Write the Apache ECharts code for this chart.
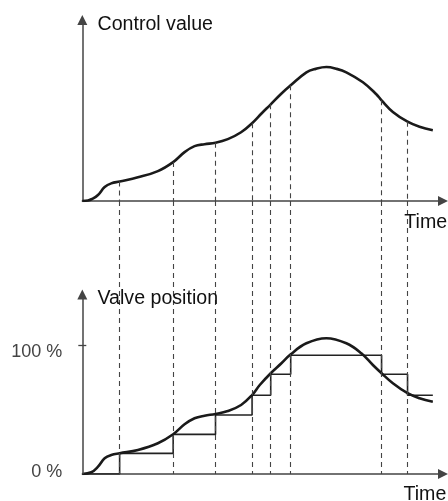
<!DOCTYPE html>
<html>
<head>
<meta charset="utf-8">
<script src="https://cdn.jsdelivr.net/npm/echarts@6/dist/echarts.min.js"></script>
<style>html,body{margin:0;padding:0;background:#fff}#c{width:448px;height:501px}</style>
</head>
<body>
<div id="c"></div>
<script>
// ---- data ----
const topTime = [0,1.58,2.69,4.35,6.2,8.03,10.35,15.42,20.96,25.19,28.35,31.12,33.89,36.93,40.34,44.02,47.07,49.75,52.24,55.01,57.78,62.13,64.7,67.66,70.52,73.2,77.8,81.51,82.97,86.1,90.17,93.49,97.18];
const controlValue = [0,0.28,1.1,3.31,7.71,9.75,10.74,13.06,16.53,21.49,27.0,30.3,31.4,32.2,34.2,38.0,43.0,48.5,53.4,59.0,63.9,71.1,73.0,74.0,73.0,71.1,65.6,59.0,55.6,49.2,43.8,41.0,39.1];

const bottomTime = [0,2.49,4.35,6.2,8.03,10.35,15.42,20.96,25.19,28.35,31.12,33.89,36.93,40.34,44.02,47.07,49.2,52.24,55.2,57.78,62.13,67.66,73.2,77.35,80.56,82.97,86.1,90.17,93.49,97.18];
const valveCurve = [0,1.32,5.66,12.17,14.73,16.05,18.6,23.8,30.8,38.5,43.2,45.2,46.5,48.8,53.5,61.2,69.0,78.1,85.8,92.8,101.3,105.2,101.3,93.6,84.5,78.1,70.3,62.6,58.7,56.0];

const sampleTimes = [10.35,25.19,36.93,47.07,52.24,57.78,82.97,90.17];
const sampleControl = [10.74,21.49,32.2,43.0,53.4,63.9,55.6,43.8];

const stepTime = [0,10.35,25.19,36.93,47.07,52.24,57.78,82.97,90.17,97.18];
const stepValue = [0,16,30.7,45.7,61,77.3,92,77.3,61,61];

const percentTicks = [0,100];
const percentLabels = ['0 %','100 %'];

const titles = ['Control value','Time','Valve position','Time'];

// ---- layout constants ----
const TOP_MAX = 100, BOT_MAX = 211.6, BOT_AXIS_END = 139.1, T_MAX = 100;
const ink = '#1a1a1a', axisInk = '#444', dashInk = '#444';
const font = 'Liberation Sans, Arial, sans-serif';
const ARROW = [10,10];

const zip = (a,b) => a.map((v,i)=>[v,b[i]]);

const topDashes = sampleTimes.map((t,i)=>[{coord:[t,sampleControl[i]]},{coord:[t,0]}]);
const botDashes = sampleTimes.map(t=>[{coord:[t,BOT_MAX]},{coord:[t,0]}]);

const xAxisBase = (gi) => ({
  type:'value', gridIndex:gi, min:0, max:T_MAX,
  axisLine:{show:true, symbol:['none','triangle'], symbolSize:ARROW, lineStyle:{color:axisInk,width:1.5}},
  axisTick:{show:false}, axisLabel:{show:false}, splitLine:{show:false}
});

const chart = echarts.init(document.getElementById('c'), null, {renderer:'canvas'});
chart.setOption({
  animation:false,
  backgroundColor:'#fff',
  title:[
    {text:titles[0], left:97.5, top:15},
    {text:titles[1], left:404.3, top:213},
    {text:titles[2], left:97.5, top:288.5},
    {text:titles[3], left:403.5, top:485}
  ].map(o=>Object.assign(o,{padding:0, textStyle:{fontSize:19.6,fontWeight:'normal',color:'#111',fontFamily:font}})),
  grid:[
    {left:82.3, right:5, top:20, height:181},
    {left:82.3, right:5, top:201, height:273}
  ],
  xAxis:[xAxisBase(0), xAxisBase(1)],
  yAxis:[
    {type:'value', gridIndex:0, position:'left', min:0, max:TOP_MAX,
     axisLine:{show:true, symbol:['none','triangle'], symbolSize:ARROW, lineStyle:{color:axisInk,width:1.5}},
     axisTick:{show:false}, axisLabel:{show:false}, splitLine:{show:false}},
    {type:'value', gridIndex:1, position:'left', offset:-4, min:0, max:BOT_MAX,
     axisLine:{show:false},
     axisTick:{show:true, customValues:[100], length:8, lineStyle:{color:axisInk,width:1.3}},
     axisLabel:{show:true, customValues:percentTicks, margin:24, color:'#444', fontSize:18, fontFamily:font,
       formatter:(v)=>{const i=percentTicks.indexOf(v); return i===1?'{a|'+percentLabels[i]+'}':'{b|'+percentLabels[i]+'}';},
       rich:{a:{padding:[14,0,0,0],fontSize:18,color:'#444',fontFamily:font},b:{padding:[0,0,4,0],fontSize:18,color:'#444',fontFamily:font}}},
     splitLine:{show:false}}
  ],
  series:[
    {type:'line', xAxisIndex:0, yAxisIndex:0, data:zip(topTime,controlValue), smooth:0.4, showSymbol:false, z:3,
     lineStyle:{color:ink,width:2.6}, silent:true,
     markLine:{silent:true, symbol:'none', label:{show:false}, lineStyle:{type:[5,4],color:dashInk,width:1.1}, data:topDashes}},
    {type:'line', xAxisIndex:1, yAxisIndex:1, data:zip(stepTime,stepValue), step:'end', showSymbol:false, z:2,
     lineStyle:{color:'#222',width:1.6}, silent:true,
     markLine:{silent:true, symbol:['none','triangle'], symbolSize:ARROW, label:{show:false},
       lineStyle:{type:'solid',color:axisInk,width:1.5}, data:[[{coord:[0,0]},{coord:[0,BOT_AXIS_END]}]]}},
    {type:'line', xAxisIndex:1, yAxisIndex:1, data:zip(bottomTime,valveCurve), smooth:0.4, showSymbol:false, z:3,
     lineStyle:{color:ink,width:2.6}, silent:true,
     markLine:{silent:true, symbol:'none', label:{show:false}, lineStyle:{type:[5,4],color:dashInk,width:1.1}, data:botDashes}}
  ]
});
</script>
</body>
</html>
